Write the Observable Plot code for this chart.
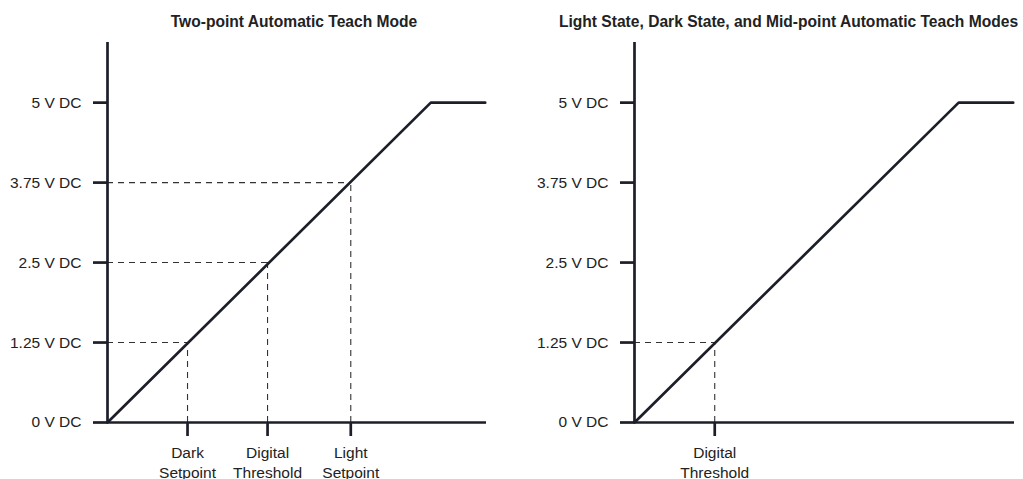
<!DOCTYPE html>
<html>
<head>
<meta charset="utf-8">
<script src="https://cdn.jsdelivr.net/npm/d3@7"></script>
<script src="https://cdn.jsdelivr.net/npm/@observablehq/plot@0.6"></script>
<style>
  html, body { margin: 0; padding: 0; background: #fff; }
  body { width: 1023px; height: 479px; overflow: hidden; font-family: "Liberation Sans", Arial, sans-serif; }
  #wrap { display: flex; }
  .panel { position: relative; }
  .title { box-sizing: border-box; height: 30px; padding-top: 12px; line-height: 19px; font-size: 15.6px; font-weight: bold; color: #222; text-align: center; white-space: nowrap; }
</style>
</head>
<body>
<div id="wrap"></div>
<script>
// ---- data ----
const outputX = [0, 5.05, 5.9];          // sensor signal (relative units)
const outputV = [0, 5, 5];               // analog output, V DC
const yTicks = [0, 1.25, 2.5, 3.75, 5];
const yTickLabels = ["0 V DC", "1.25 V DC", "2.5 V DC", "3.75 V DC", "5 V DC"];
const leftTitle = "Two-point Automatic Teach Mode";
const leftPointsX = [1.25, 2.5, 3.8];
const leftPointsV = [1.25, 2.5, 3.75];
const leftLabels = ["Dark\nSetpoint", "Digital\nThreshold", "Light\nSetpoint"];
const rightTitle = "Light State, Dark State, and Mid-point Automatic Teach Modes";
const rightPointsX = [1.25];
const rightPointsV = [1.25];
const rightLabels = ["Digital\nThreshold"];

const ink = "#1c1f2a";
const lineData = outputX.map((x, i) => ({x, v: outputV[i]}));

function panel({title, xs, vs, labels, width, marginLeft, marginRight, titleShift}) {
  const div = document.createElement("div");
  div.className = "panel";
  div.style.width = width + "px";
  const t = document.createElement("div");
  t.className = "title";
  t.style.paddingLeft = (titleShift > 0 ? 2 * titleShift : 0) + "px";
  t.style.paddingRight = (titleShift < 0 ? -2 * titleShift : 0) + "px";
  t.textContent = title;
  div.appendChild(t);
  const pts = xs.map((x, i) => ({x, v: vs[i]}));
  const chart = Plot.plot({
    width, height: 449,
    marginLeft, marginRight, marginTop: 12, marginBottom: 57,
    x: {domain: [0, 5.92]},
    y: {domain: [0, 5.94]},
    style: {fontSize: "15.5px", fontFamily: "'Liberation Sans', Arial, sans-serif", color: "#222", background: "#fff", overflow: "visible"},
    marks: [
      Plot.ruleY(pts, {y: "v", x1: 0, x2: "x", stroke: "#333", strokeWidth: 1.1, strokeDasharray: "6,5"}),
      Plot.ruleX(pts, {x: "x", y1: 0, y2: "v", stroke: "#333", strokeWidth: 1.1, strokeDasharray: "6,5"}),
      Plot.axisY({ticks: yTicks, tickFormat: d => yTickLabels[yTicks.indexOf(d)], tickSize: 14, tickPadding: 12, stroke: ink, strokeWidth: 2.7, label: null}),
      Plot.axisX({ticks: xs, tickFormat: d => labels[xs.indexOf(d)], tickSize: 14, tickPadding: 8, stroke: ink, strokeWidth: 2.7, lineHeight: 1.25, label: null}),
      Plot.ruleX([0], {stroke: ink, strokeWidth: 2.7}),
      Plot.ruleY([0], {stroke: ink, strokeWidth: 2.7}),
      Plot.line(lineData, {x: "x", y: "v", stroke: ink, strokeWidth: 2.7, strokeLinejoin: "miter"})
    ]
  });
  div.appendChild(chart);
  return div;
}

const wrap = document.getElementById("wrap");
wrap.appendChild(panel({title: leftTitle, xs: leftPointsX, vs: leftPointsV, labels: leftLabels, width: 512, marginLeft: 107, marginRight: 26, titleShift: 38}));
wrap.appendChild(panel({title: rightTitle, xs: rightPointsX, vs: rightPointsV, labels: rightLabels, width: 511, marginLeft: 122, marginRight: 9, titleShift: 21}));
</script>
</body>
</html>
